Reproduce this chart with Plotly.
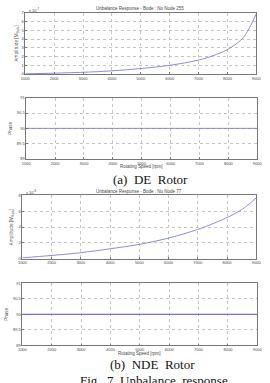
import plotly.graph_objects as go

speed = [1000, 2000, 3000, 4000, 5000, 6000, 7000, 7500, 8000, 8500, 8750, 9000]
amp_de = [0.03, 0.1, 0.2, 0.37, 0.63, 1.0, 1.6, 2.1, 2.8, 4.0, 5.2, 6.9]   # x 1e-7
amp_nde = [0.1, 0.4, 0.75, 1.25, 1.8, 2.6, 3.7, 4.4, 5.2, 6.2, 6.9, 7.7]  # x 1e-8
phase_speed = [1000, 9000]
phase_de = [90, 90]
phase_nde = [90, 90]

H = 383.0
W = 270.0
def yd(top, bot):
    return [1 - bot / H, 1 - top / H]
def xd(l, r):
    return [l / W, r / W]

LINE = "#6f6fd6"
fig = go.Figure()
fig.add_trace(go.Scatter(x=speed, y=amp_de, mode="lines", line=dict(color=LINE, width=0.8, shape="spline"), xaxis="x", yaxis="y"))
fig.add_trace(go.Scatter(x=phase_speed, y=phase_de, mode="lines", line=dict(color=LINE, width=0.8), xaxis="x2", yaxis="y2"))
fig.add_trace(go.Scatter(x=speed, y=amp_nde, mode="lines", line=dict(color=LINE, width=0.8, shape="spline"), xaxis="x3", yaxis="y3"))
fig.add_trace(go.Scatter(x=phase_speed, y=phase_nde, mode="lines", line=dict(color=LINE, width=1.2), xaxis="x4", yaxis="y4"))

tickf = dict(size=4, color="#444", family="Arial")
common = dict(showline=True, linecolor="#777", linewidth=0.6, mirror=True, showgrid=True,
              gridcolor="#c4c4c4", griddash="dot", gridwidth=0.6, zeroline=False,
              tickfont=tickf, ticks="inside", ticklen=2, tickcolor="#777")
xcommon = dict(common, range=[1000, 9000], tickvals=[1000, 2000, 3000, 4000, 5000, 6000, 7000, 8000, 9000])

fig.update_layout(
    width=270, height=383, margin=dict(l=0, r=0, t=0, b=0),
    paper_bgcolor="white", plot_bgcolor="white", showlegend=False,
    xaxis=dict(xcommon, domain=xd(22, 261), anchor="y"),
    yaxis=dict(common, domain=yd(10, 72), range=[0, 7], dtick=1, anchor="x",
               title=dict(text="Amplitude [M<sub>0-pk</sub>]", font=dict(size=4.5, color="#444"), standoff=2)),
    xaxis2=dict(xcommon, domain=xd(23, 262), anchor="y2"),
    yaxis2=dict(common, domain=yd(96, 158), range=[89, 91], tickvals=[89, 89.5, 90, 90.5, 91],
                ticktext=["89", "89.5", "90", "90.5", "91"], anchor="x2",
                title=dict(text="Phase", font=dict(size=4.5, color="#444"), standoff=4)),
    xaxis3=dict(xcommon, domain=xd(19, 261), anchor="y3"),
    yaxis3=dict(common, domain=yd(195, 259), range=[0, 8], dtick=2, anchor="x3",
                title=dict(text="Amplitude [M<sub>0-pk</sub>]", font=dict(size=4.5, color="#444"), standoff=4)),
    xaxis4=dict(xcommon, domain=xd(19, 262), anchor="y4"),
    yaxis4=dict(common, domain=yd(284, 347), range=[89, 91], tickvals=[89, 89.5, 90, 90.5, 91],
                ticktext=["89", "89.5", "90", "90.5", "91"], anchor="x4",
                title=dict(text="Phase", font=dict(size=4.5, color="#444"), standoff=4)),
)

def ann(text, x, y, size, family="Arial", color="#444", xanchor="center"):
    fig.add_annotation(text=text, x=x / W, y=1 - y / H, xref="paper", yref="paper",
                       showarrow=False, font=dict(size=size, family=family, color=color),
                       xanchor=xanchor, yanchor="middle")

ann("Unbalance Response - Bode : No Node 255", 141, 5.5, 4.5)
ann("Unbalance Response - Bode : No Node 77", 140, 191, 4.5)
ann("x 10<sup>-7</sup>", 24, 7, 4, xanchor="left")
ann("x 10<sup>-8</sup>", 21, 192, 4, xanchor="left")
ann("Rotating Speed [rpm]", 142, 166, 4.5)
ann("Rotating Speed [rpm]", 140, 355.5, 4.5)
serif = "Liberation Serif, Times New Roman, serif"
ann("(a)  DE  Rotor", 152, 179, 13, family=serif, color="#111")
ann("(b)  NDE  Rotor", 154, 366, 13, family=serif, color="#111")
ann("Fig.  7  Unbalance  response", 155, 382, 13, family=serif, color="#111")

fig.write_html("out.html")
